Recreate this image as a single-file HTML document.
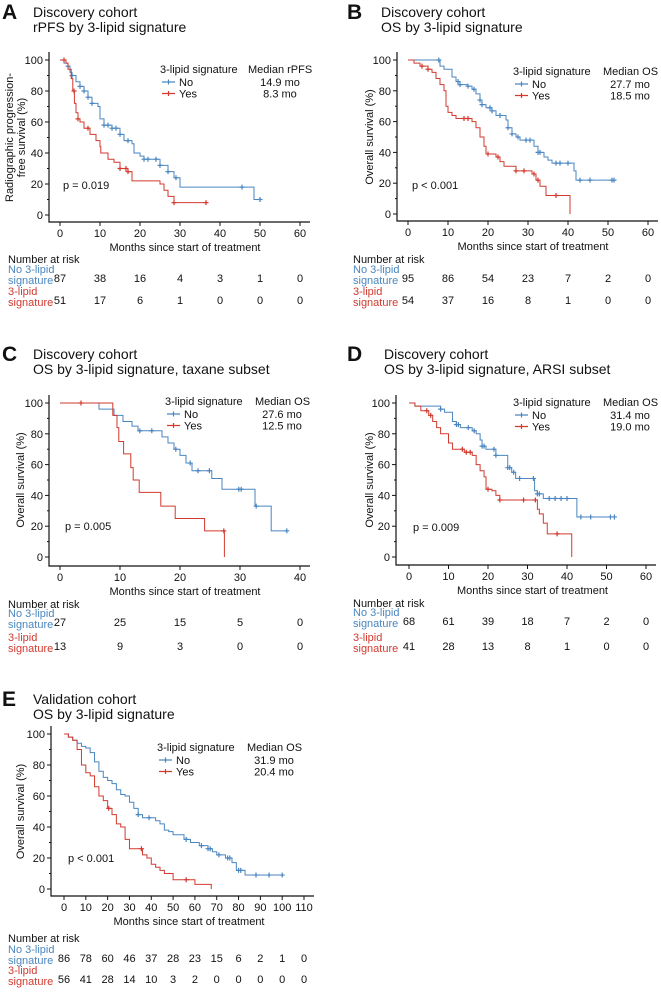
<!DOCTYPE html>
<html><head><meta charset="utf-8"><style>
html,body{margin:0;padding:0;background:#fff}
svg{display:block;font-family:"Liberation Sans",Arial,sans-serif}
</style></head><body>
<svg id="fig" width="661" height="993" viewBox="0 0 661 993"></svg>
<script>
const BLUE="#4a86c0", RED="#d23a2f";
// Panel A data
const aNoCurve=[[0,100],[1,98],[2,96],[2.5,92],[3,90],[4,86],[5,83],[6,80],[7,76],[8,72],[9.5,70],[10,62],[11,58],[13,56],[15,52],[16,48],[18,46],[18.5,40],[20,38],[21,36],[24,36],[25,32],[27,28],[28.5,24],[30,18],[48.5,18],[48.5,10],[50,10]];
const aNoCens=[2,3,5,6,7,8,11,12,13,14,15,17,21,22,24,25,27,29,45.5,50];
const aYesCurve=[[0,100],[1.5,98],[2,94],[2.8,88],[3.2,80],[3.6,72],[4,66],[4.5,62],[5,60],[6,56],[7.5,52],[9,48],[10,44],[10.2,40],[12,36],[13.5,34],[15,30],[17,28],[18,22],[25,20],[26,16],[27,12],[28.5,8],[36.7,8]];
const aYesCens=[1,3.5,4.5,7,15,16.5,17,28.5,36.5];
const aRiskNo=[87,38,16,4,3,1,0];
const aRiskYes=[51,17,6,1,0,0,0];
const aTicks=[0,10,20,30,40,50,60];
// Panel B data
const bNoCurve=[[0,100],[7.5,100],[8,96],[9,94],[11,89],[12,86],[13,84],[15,83],[16,81],[17,78],[18,74],[18.5,71],[19.5,69],[21,67],[22,64],[24.5,61],[25,56],[26,52],[27,50],[28,48],[31,48],[31.5,44],[32.5,40],[34,37],[35,35],[36,33],[41,33],[41.5,28],[42,22],[51.5,22]];
const bNoCens=[7.7,12.5,13,15,16.5,18,18.5,20.5,21,23,25,26,27.5,29.5,30.5,32.5,33,37,38,40,43,45.5,51,51.5];
const bYesCurve=[[0,100],[1.5,98],[3,96],[5,94],[6,92],[7,88],[8,84],[9,80],[9.5,70],[10,66],[11,64],[12,62],[16,60],[17,56],[18,50],[19,44],[19.5,39],[22,37],[23,34],[24,31],[27,28],[31,26],[32,22],[33,18],[34.5,12],[40.5,12],[40.5,0]];
const bYesCens=[3.5,5,14,15,20,22.5,27,29,31.5,32.5,37];
const bRiskNo=[95,86,54,23,7,2,0];
const bRiskYes=[54,37,16,8,1,0,0];
const bTicks=[0,10,20,30,40,50,60];
// Panel C data
const cNoCurve=[[0,100],[6.5,100],[6.5,96],[9,92],[10.5,88],[12,85],[13,82],[17,78],[18,74],[19,70],[20,66],[21,61],[22,56],[25,56],[25.3,51],[27,44],[32.3,44],[32.5,33],[35.2,33],[35.2,17],[37.7,17]];
const cNoCens=[13.3,15.3,19.3,21.7,23,24.9,29.8,30.2,32.7,37.8];
const cYesCurve=[[0,100],[8.8,100],[8.8,92],[9.5,84],[9.8,75],[10.6,67],[11.8,58],[12.2,50],[13.2,42],[16.8,33],[19.2,25],[24.1,17],[27.4,17],[27.4,0]];
const cYesCens=[3.5,27.3];
const cRiskNo=[27,25,15,5,0];
const cRiskYes=[13,9,3,0,0];
const cTicks=[0,10,20,30,40];
// Panel D data
const dNoCurve=[[0,100],[1.5,98],[8,96],[9,94],[11,88],[12,86],[13,84],[16,82],[17,80],[18,76],[18.5,72],[19.5,70],[21.5,70],[22,66],[25,58],[26,55],[27,51],[31,51],[31.8,43],[32.5,41],[34,38],[42,38],[42.5,26],[52,26]];
const dNoCens=[8,12,12.5,15,16.5,18.5,19,21.5,22,25,25.5,26.5,28,31.5,32.5,33,35.5,37,38.5,40,43.5,46,51,52];
const dYesCurve=[[0,100],[1.5,98],[3,95],[5,92],[6,88],[7,84],[8,80],[10,74],[11,70],[14,68],[16,66],[17,60],[18,56],[19,52],[19.5,44],[21,43],[22,40],[23,37],[32,37],[32.5,31],[33,28],[34,22],[35,15],[41,15],[41.2,0]];
const dYesCens=[4.5,5.5,13.5,14.5,15.5,20,23,29,32,37.5];
const dRiskNo=[68,61,39,18,7,2,0];
const dRiskYes=[41,28,13,8,1,0,0];
const dTicks=[0,10,20,30,40,50,60];
// Panel E data
const eNoCurve=[[0,100],[2,98],[4,96],[6,94],[8,92],[10,91],[12,88],[14,82],[16,76],[18,72],[20,70],[22,68],[24,64],[26,61],[28,60],[30,56],[32,52],[34,48],[36,46],[40,46],[42,44],[44,42],[46,38],[48,37],[50,35],[55,32],[58,30],[62,28],[66,26],[68,24],[70,22],[74,20],[77,17],[79,12],[82,12],[83,9],[100,9]];
const eNoCens=[34,39,56,63,66,67,71,75,76,80,81,88,94,100];
const eYesCurve=[[0,100],[2,98],[4,96],[6,90],[8,80],[10,75],[12,73],[14,66],[16,60],[18,57],[20,52],[22,48],[24,42],[26,40],[28,32],[30,26],[34,26],[36,22],[38,20],[40,16],[42,14],[44,12],[46,10],[50,6],[56,6],[60,3],[67,3],[67.5,0]];
const eYesCens=[20.5,35.5,56];
const eRiskNo=[86,78,60,46,37,28,23,15,6,2,1,0];
const eRiskYes=[56,41,28,14,10,3,2,0,0,0,0,0];
const eTicks=[0,10,20,30,40,50,60,70,80,90,100,110];

const NS="http://www.w3.org/2000/svg";
const svg=document.getElementById('fig');
function mk(tag,attrs,parent){const e=document.createElementNS(NS,tag);for(const k in attrs)e.setAttribute(k,attrs[k]);(parent||svg).appendChild(e);return e;}
function txt(s,x,y,opt,parent){const t=mk('text',Object.assign({x:x,y:y,'font-size':11,fill:'#111'},opt||{}),parent);t.textContent=s;return t;}

function panel(P){
  const g=mk('g',{});
  
  
  const xs=v=>P.x0+(v-P.tmin)/(P.tmax-P.tmin)*(P.x1-P.x0);
  const ys=v=>P.y0+(100-v)/100*(P.yb-P.y0);
  const L=txt(P.id,P.lx,P.ty1+2,{'font-size':21,'font-weight':'bold'},g);
  
  const t1=txt(P.t1,P.tx,P.ty1,{'font-size':14},g);
  
  txt(P.t2,P.tx,P.ty1+15,{'font-size':14},g);
  const ax=mk('path',{d:`M${P.ax} ${P.y0-8}V${P.axb}H${P.x1+10}`,stroke:'#111','stroke-width':1.2,fill:'none'},g);
  
  for(let v=0;v<=100;v+=10){const y=ys(v);
    mk('line',{x1:P.ax-(v%20?2:4),x2:P.ax,y1:y,y2:y,stroke:'#111','stroke-width':1},g);
    if(v%20===0){const t=txt(String(v),P.ax-6,y+4,{'text-anchor':'end'},g);}}
  P.ticks.forEach(v=>{const x=xs(v);mk('line',{x1:x,x2:x,y1:P.axb,y2:P.axb+4,stroke:'#111'},g);
    const t=txt(String(v),x,P.axb+15,{'text-anchor':'middle'},g);});
  const xt=txt('Months since start of treatment',(P.x0+P.x1)/2+5,P.axb+29,{'text-anchor':'middle'},g);
  
  const cy=(P.y0+P.yb)/2;
  const yl=mk('text',{transform:`translate(${P.ylx},${cy}) rotate(-90)`,'text-anchor':'middle','font-size':11,fill:'#111'},g);
  
  if(P.ylab2){yl.innerHTML=`<tspan x="0" y="0">${P.ylab}</tspan><tspan x="0" y="12">${P.ylab2}</tspan>`;}else yl.textContent=P.ylab;
  function series(curve,cens,col,name){
    let d='';curve.forEach((p,i)=>{if(i===0)d=`M${xs(p[0])} ${ys(p[1])}`;else{d+=`H${xs(p[0])}V${ys(p[1])}`;}});
    const pa=mk('path',{d:d,stroke:col,'stroke-width':1,fill:'none'},g);
    
    cens.forEach(t=>{let s=curve[0][1];for(const p of curve){if(p[0]<=t)s=p[1];}
      const x=xs(t),y=ys(s);
      const c=mk('path',{d:`M${x-2.5} ${y}H${x+2.5}M${x} ${y-2.5}V${y+2.5}`,stroke:col,'stroke-width':1.2},g);
      });
  }
  series(P.noC,P.noCens,BLUE,'no-signature');
  series(P.yesC,P.yesCens,RED,'signature');
  const lg=mk('g',{},g);
  txt('3-lipid signature',P.lgx,P.lgy,{},lg);
  txt(P.medLabel,P.mdx,P.lgy,{},lg);
  [['No',BLUE,P.med[0]],['Yes',RED,P.med[1]]].forEach((r,i)=>{const y=P.lgy+13+i*11.5;
    mk('path',{d:`M${P.lgx+2} ${y-4}h13M${P.lgx+8.5} ${y-6.5}v5`,stroke:r[1],'stroke-width':1.2},lg);
    const e=txt(r[0],P.lgx+19,y,{},lg);
    txt(r[2],P.mdx+P.mdw/2,y,{'text-anchor':'middle'},lg);});
  const pv=txt(P.p,P.px,P.py,{},g);
  const rt=mk('g',{},g);
  txt('Number at risk',P.rlx,P.nar,{},rt);
  txt('No 3-lipid',P.rlx,P.r1-5,{fill:BLUE},rt);txt('signature',P.rlx,P.r1+6,{fill:BLUE},rt);
  txt('3-lipid',P.rlx,P.r2-5,{fill:RED},rt);txt('signature',P.rlx,P.r2+6,{fill:RED},rt);
  P.ticks.forEach((v,i)=>{
    const a=txt(String(P.rNo[i]),xs(v),P.r1+4,{'text-anchor':'middle'},rt);
    const b=txt(String(P.rYes[i]),xs(v),P.r2+4,{'text-anchor':'middle'},rt);});
}
const common={tmin:0,ylab:'Overall survival (%)'};
panel(Object.assign({},common,{id:'A',lx:2,tx:33,ty1:17,t1:'Discovery cohort',t2:'rPFS by 3-lipid signature',
 ax:49,x0:60,x1:300,tmax:60,y0:60,yb:215,axb:222,ylx:13,ylab:'Radiographic progression-',ylab2:'free survival (%)',
 ticks:aTicks,noC:aNoCurve,noCens:aNoCens,yesC:aYesCurve,yesCens:aYesCens,lgx:160,lgy:73,mdx:248,mdw:64,medLabel:'Median rPFS',med:['14.9 mo','8.3 mo'],
 p:'p = 0.019',px:63,py:189,rlx:8,nar:263,r1:278,r2:300,rNo:aRiskNo,rYes:aRiskYes}));
panel(Object.assign({},common,{id:'B',lx:347,tx:381,ty1:17,t1:'Discovery cohort',t2:'OS by 3-lipid signature',
 ax:397,x0:408,x1:648,tmax:60,y0:60,yb:214,axb:221,ylx:373,
 ticks:bTicks,noC:bNoCurve,noCens:bNoCens,yesC:bYesCurve,yesCens:bYesCens,lgx:513,lgy:75,mdx:603,mdw:54,medLabel:'Median OS',med:['27.7 mo','18.5 mo'],
 p:'p < 0.001',px:412,py:189,rlx:353,nar:263,r1:278,r2:300,rNo:bRiskNo,rYes:bRiskYes}));
panel(Object.assign({},common,{id:'C',lx:2,tx:33,ty1:359,t1:'Discovery cohort',t2:'OS by 3-lipid signature, taxane subset',
 ax:49,x0:60,x1:300,tmax:40,y0:403,yb:557,axb:566,ylx:24,
 ticks:cTicks,noC:cNoCurve,noCens:cNoCens,yesC:cYesCurve,yesCens:cYesCens,lgx:165,lgy:405,mdx:255,mdw:54,medLabel:'Median OS',med:['27.6 mo','12.5 mo'],
 p:'p = 0.005',px:65,py:530,rlx:8,nar:608,r1:622,r2:646,rNo:cRiskNo,rYes:cRiskYes}));
panel(Object.assign({},common,{id:'D',lx:347,tx:384,ty1:359,t1:'Discovery cohort',t2:'OS by 3-lipid signature, ARSI subset',
 ax:396,x0:409,x1:646,tmax:60,y0:403,yb:557,axb:565,ylx:373,
 ticks:dTicks,noC:dNoCurve,noCens:dNoCens,yesC:dYesCurve,yesCens:dYesCens,lgx:513,lgy:406,mdx:603,mdw:54,medLabel:'Median OS',med:['31.4 mo','19.0 mo'],
 p:'p = 0.009',px:413,py:531,rlx:353,nar:607,r1:621,r2:646,rNo:dRiskNo,rYes:dRiskYes}));
panel(Object.assign({},common,{id:'E',lx:2,tx:33,ty1:704,t1:'Validation cohort',t2:'OS by 3-lipid signature',
 ax:51,x0:64,x1:304,tmax:110,y0:734,yb:889,axb:896,ylx:24,
 ticks:eTicks,noC:eNoCurve,noCens:eNoCens,yesC:eYesCurve,yesCens:eYesCens,lgx:157,lgy:751,mdx:247,mdw:54,medLabel:'Median OS',med:['31.9 mo','20.4 mo'],
 p:'p < 0.001',px:68,py:862,rlx:8,nar:942,r1:958,r2:979,rNo:eRiskNo,rYes:eRiskYes}));
</script>
</body></html>
